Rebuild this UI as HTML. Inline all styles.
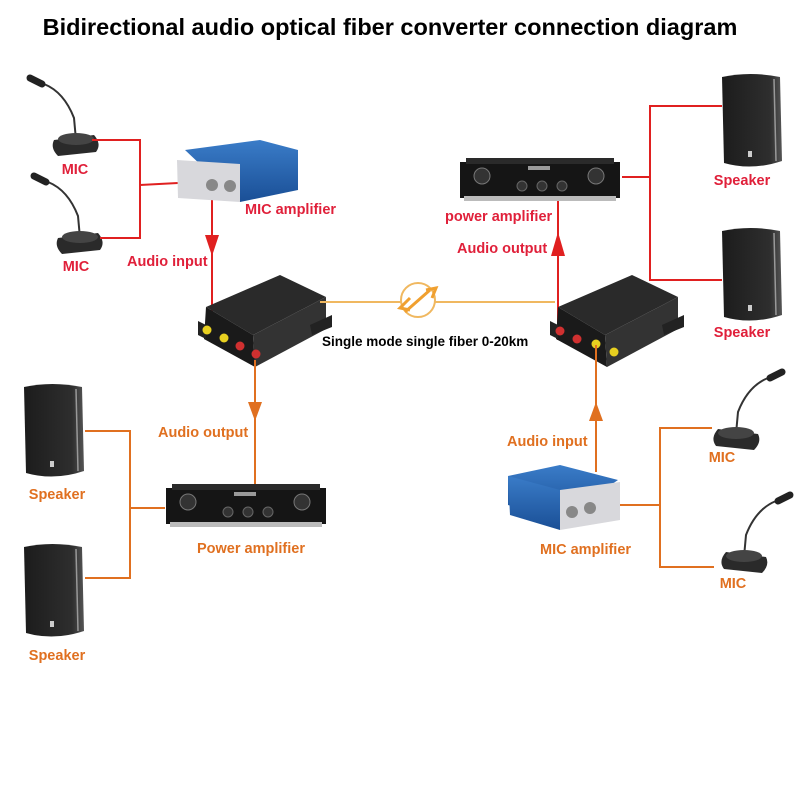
<!DOCTYPE html>
<html><head><meta charset="utf-8"><style>
html,body{margin:0;padding:0;background:#fff}
svg{display:block}
text{font-family:"Liberation Sans",Arial,sans-serif;font-weight:bold}
</style></head><body>
<svg width="800" height="800" viewBox="0 0 800 800" xmlns="http://www.w3.org/2000/svg">
<defs>
<linearGradient id="blue" x1="0" y1="0" x2="0" y2="1"><stop offset="0" stop-color="#3a7cc8"/><stop offset="1" stop-color="#1a4f96"/></linearGradient>
<linearGradient id="spk" x1="0" y1="0" x2="1" y2="0"><stop offset="0" stop-color="#1c1c1c"/><stop offset="0.8" stop-color="#2e2e2e"/><stop offset="1" stop-color="#555"/></linearGradient>
<g id="speaker">
<path d="M2 4 Q30 -2 60 4 L62 88 Q32 98 4 90 Z" fill="url(#spk)"/>
<line x1="54" y1="6" x2="56" y2="88" stroke="#999" stroke-width="1.5"/>
<rect x="28" y="78" width="4" height="6" fill="#ccc"/>
</g>
<g id="mic">
<path d="M0 0 L14 6 Q34 14 44 40 L46 62" fill="none" stroke="#333" stroke-width="2"/>
<line x1="0" y1="0" x2="12" y2="6" stroke="#222" stroke-width="7" stroke-linecap="round"/>
<path d="M24 62 L64 57 Q72 66 66 74 L28 78 Q20 70 24 62 Z" fill="#2a2a2a"/>
<ellipse cx="46" cy="61" rx="18" ry="6" fill="#444"/>
</g>
<g id="poweramp">
<rect x="0" y="4" width="160" height="36" fill="#151515"/>
<rect x="6" y="0" width="148" height="6" fill="#2a2a2a"/>
<rect x="4" y="38" width="152" height="5" fill="#bbb"/>
<circle cx="22" cy="18" r="8" fill="#333" stroke="#777"/>
<circle cx="136" cy="18" r="8" fill="#333" stroke="#777"/>
<circle cx="62" cy="28" r="5" fill="#333" stroke="#666"/>
<circle cx="82" cy="28" r="5" fill="#333" stroke="#666"/>
<circle cx="102" cy="28" r="5" fill="#333" stroke="#666"/>
<rect x="68" y="8" width="22" height="4" fill="#999"/>
</g>
<g id="conv">
<path d="M8 32 L82 0 L128 22 L55 60 Z" fill="#2a2a2a"/>
<path d="M8 32 L55 60 L57 92 L6 64 Z" fill="#1a1a1a"/>
<path d="M55 60 L128 22 L128 54 L57 92 Z" fill="#333"/>
<path d="M0 46 L8 50 L8 64 L0 60 Z" fill="#222"/>
<path d="M112 50 L134 40 L134 52 L114 60 Z" fill="#222"/>
</g>
</defs>

<text x="390" y="35" font-size="23.5" text-anchor="middle" fill="#000">Bidirectional audio optical fiber converter connection diagram</text>

<!-- top-left mics -->
<use href="#mic" x="30" y="78"/>
<use href="#mic" x="34" y="176"/>
<text x="75" y="174" font-size="14.5" text-anchor="middle" fill="#e0203a">MIC</text>
<text x="76" y="271" font-size="14.5" text-anchor="middle" fill="#e0203a">MIC</text>
<g stroke="#e02020" stroke-width="2" fill="none">
<polyline points="92,140 140,140 140,238 100,238"/>
<line x1="140" y1="185" x2="178" y2="183"/>
<line x1="212" y1="198" x2="212" y2="343"/>
<polyline points="622,177 650,177"/>
<polyline points="722,106 650,106 650,280 722,280"/>
<line x1="558" y1="200" x2="558" y2="340"/>
</g>
<polygon points="205,235 219,235 212,256" fill="#e02020"/>
<polygon points="551,256 565,256 558,232" fill="#e02020"/>

<!-- top-left MIC amplifier -->
<path d="M185 150 L260 140 L298 150 L298 190 L240 202 Z" fill="url(#blue)"/>
<path d="M177 160 L240 164 L240 202 L178 198 Z" fill="#d8d8dc"/>
<circle cx="212" cy="185" r="6" fill="#888"/><circle cx="230" cy="186" r="6" fill="#888"/>
<text x="245" y="214" font-size="14.5" fill="#e0203a">MIC amplifier</text>
<text x="127" y="266" font-size="14.5" fill="#e0203a">Audio input</text>

<!-- converters -->
<use href="#conv" x="198" y="275"/>
<g><circle cx="207" cy="330" r="4.5" fill="#e8d020"/><circle cx="224" cy="338" r="4.5" fill="#e8d020"/><circle cx="240" cy="346" r="4.5" fill="#d03030"/><circle cx="256" cy="354" r="4.5" fill="#d03030"/></g>
<use href="#conv" x="550" y="275"/>
<g><circle cx="560" cy="331" r="4.5" fill="#d03030"/><circle cx="577" cy="339" r="4.5" fill="#d03030"/><circle cx="596" cy="344" r="4.5" fill="#e8d020"/><circle cx="614" cy="352" r="4.5" fill="#e8d020"/></g>

<!-- fiber -->
<line x1="320" y1="302" x2="555" y2="302" stroke="#f0b860" stroke-width="2"/>
<circle cx="418" cy="300" r="17" fill="#fff" stroke="#f0b860" stroke-width="2"/>
<path d="M405 312 L430 290 M410 298 L400 308 L410 310 M426 290 L436 288 L432 298" stroke="#f0a030" stroke-width="3" fill="none"/>
<text x="322" y="346" font-size="13.5" fill="#000">Single mode single fiber 0-20km</text>

<!-- orange lines -->
<g stroke="#e07020" stroke-width="2" fill="none">
<line x1="255" y1="360" x2="255" y2="485"/>
<polyline points="165,508 130,508"/>
<polyline points="85,431 130,431 130,578 85,578"/>
<line x1="596" y1="345" x2="596" y2="472"/>
<polyline points="612,505 660,505"/>
<polyline points="712,428 660,428 660,567 714,567"/>
</g>
<polygon points="248,402 262,402 255,421" fill="#e07020"/>
<polygon points="589,421 603,421 596,402" fill="#e07020"/>
<text x="158" y="437" font-size="14.5" fill="#e07020">Audio output</text>
<text x="507" y="446" font-size="14.5" fill="#e07020">Audio input</text>

<!-- bottom-left power amp, speakers -->
<use href="#poweramp" x="166" y="484"/>
<text x="197" y="553" font-size="14.5" fill="#e07020">Power amplifier</text>
<use href="#speaker" x="22" y="383"/>
<use href="#speaker" x="22" y="543"/>
<text x="57" y="499" font-size="14.5" text-anchor="middle" fill="#e07020">Speaker</text>
<text x="57" y="660" font-size="14.5" text-anchor="middle" fill="#e07020">Speaker</text>

<!-- top-right power amp, speakers -->
<use href="#poweramp" x="460" y="158"/>
<text x="445" y="221" font-size="14.5" fill="#e0203a">power amplifier</text>
<text x="457" y="253" font-size="14.5" fill="#e0203a">Audio output</text>
<use href="#speaker" x="720" y="73"/>
<use href="#speaker" x="720" y="227"/>
<text x="742" y="185" font-size="14.5" text-anchor="middle" fill="#e0203a">Speaker</text>
<text x="742" y="337" font-size="14.5" text-anchor="middle" fill="#e0203a">Speaker</text>

<!-- bottom-right MIC amplifier -->
<path d="M508 476 L560 465 L618 480 L560 520 L508 505 Z" fill="url(#blue)"/>
<path d="M508 476 L560 490 L560 530 L510 515 Z" fill="url(#blue)"/>
<path d="M560 490 L620 482 L620 520 L560 530 Z" fill="#d8d8dc"/>
<circle cx="572" cy="512" r="6" fill="#888"/><circle cx="590" cy="508" r="6" fill="#888"/>
<text x="540" y="554" font-size="14.5" fill="#e07020">MIC amplifier</text>

<!-- bottom-right mics -->
<g transform="translate(782,372) scale(-1,1)"><use href="#mic"/></g>
<g transform="translate(790,495) scale(-1,1)"><use href="#mic"/></g>
<text x="722" y="462" font-size="14.5" text-anchor="middle" fill="#e07020">MIC</text>
<text x="733" y="588" font-size="14.5" text-anchor="middle" fill="#e07020">MIC</text>
</svg>
</body></html>
